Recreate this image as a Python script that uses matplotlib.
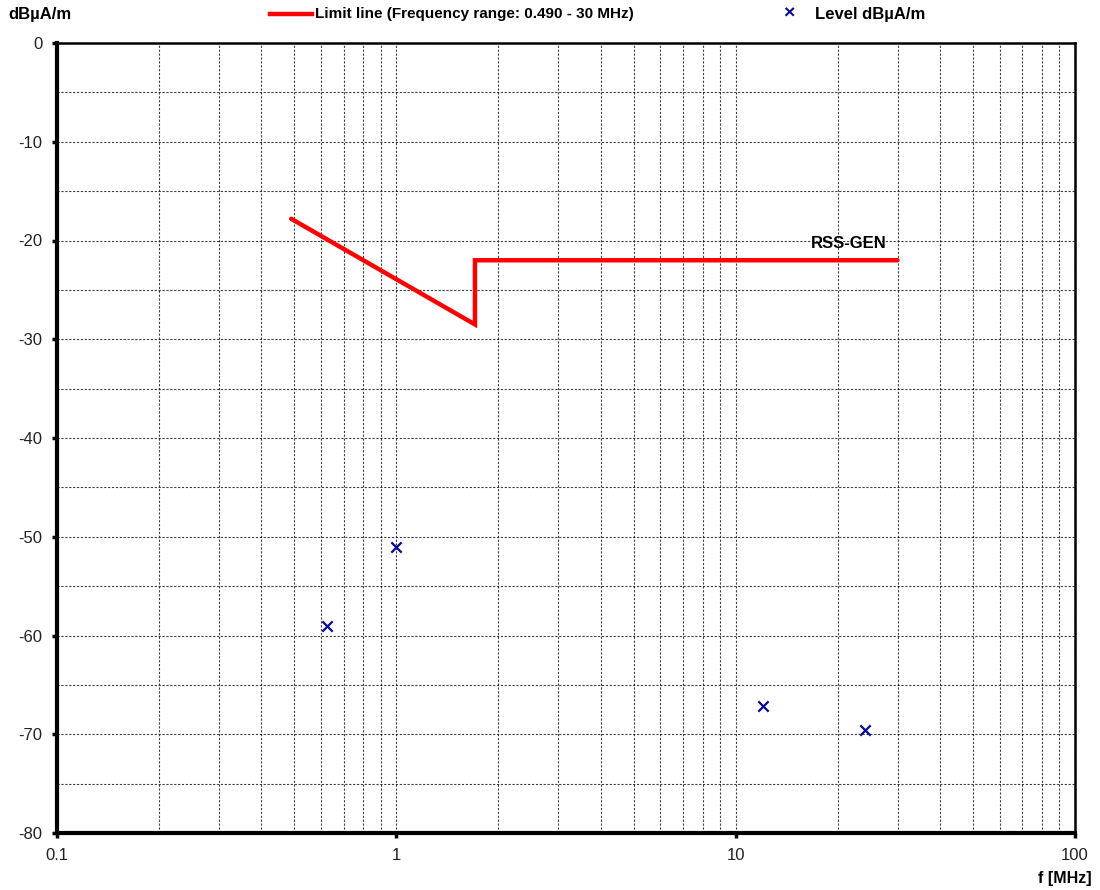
#!/usr/bin/env python3

import numpy as np
from matplotlib import pyplot as plt
from matplotlib.ticker import FixedLocator, NullFormatter

plt.rcParams['font.family'] = ['Liberation Sans', 'DejaVu Sans']
plt.rcParams['axes.unicode_minus'] = False

# limit line (RSS-GEN), frequency in MHz, level in dBuA/m
limit_f = [0.49, 1.705, 1.705, 30.0]
limit_db = [-17.8, -28.5, -22.0, -22.0]

# measured levels
level_f = [0.625, 1.0, 12.0, 24.0]
level_db = [-59.0, -51.0, -67.1, -69.6]

x_ticks = [0.1, 1, 10, 100]
x_labels = ['0.1', '1', '10', '100']
y_ticks = [0, -10, -20, -30, -40, -50, -60, -70, -80]

fig = plt.figure(figsize=(11, 8.9), dpi=100)
ax = fig.add_axes([57 / 1100, 57 / 890, 1018 / 1100, 790 / 890])

ax.set_xscale('log')
ax.set_xlim(0.1, 100)
ax.set_ylim(-80, 0)

# grid: all 1-9 per decade and every 5 dB
minor_x = [m * 10.0 ** e for e in (-1, 0, 1) for m in range(2, 10)]
ax.xaxis.set_major_locator(FixedLocator(x_ticks))
ax.xaxis.set_minor_locator(FixedLocator(minor_x))
ax.xaxis.set_minor_formatter(NullFormatter())
ax.set_xticklabels(x_labels)
ax.yaxis.set_major_locator(FixedLocator(y_ticks))
ax.yaxis.set_minor_locator(FixedLocator(np.arange(-75, 0, 10)))

grid_kw = dict(color='black', linestyle=(0, (2, 1.5)), linewidth=0.8, alpha=0.75)
ax.grid(True, which='both', axis='both', **grid_kw)
ax.set_axisbelow(True)

ax.tick_params(axis='both', which='major', length=3.5, width=2.5, direction='out',
               labelsize=12, labelcolor='#222222')
ax.tick_params(axis='y', which='major', pad=7)
ax.tick_params(axis='x', which='major', pad=7)
ax.tick_params(axis='both', which='minor', length=0)

for side in ('left', 'bottom'):
    ax.spines[side].set_linewidth(3)
for side in ('top', 'right'):
    ax.spines[side].set_linewidth(1.8)

ax.plot(limit_f, limit_db, color='#ff0000', linewidth=3.2, solid_capstyle='round',
        solid_joinstyle='miter', zorder=3)
ax.scatter(level_f, level_db, marker='x', s=55, color='#0a0a8c', linewidths=1.6, zorder=4)

ax.text(21.6, -21.1, 'RSS-GEN', fontsize=12, fontweight='bold', ha='center', va='bottom')

# header / labels
fig.text(8 / 1100, 1 - 14 / 890, 'dBµA/m', fontsize=12, fontweight='bold', va='center')
fig.add_artist(plt.Line2D([270 / 1100, 312 / 1100], [1 - 14 / 890, 1 - 14 / 890],
                          color='#ff0000', linewidth=3.2))
fig.text(315 / 1100, 1 - 14 / 890, 'Limit line (Frequency range: 0.490 - 30 MHz)',
         fontsize=11, fontweight='bold', va='center')
fig.text(789 / 1100, 1 - 14 / 890, '×', fontsize=14, fontweight='bold', color='#0a0a8c',
         ha='center', va='center')
fig.text(815 / 1100, 1 - 14 / 890, 'Level dBµA/m', fontsize=12, fontweight='bold', va='center')
fig.text(1092 / 1100, 1 - 878 / 890, 'f [MHz]', fontsize=11.5, fontweight='bold',
         ha='right', va='center')

plt.savefig('out.png', dpi=100)
plt.close()
